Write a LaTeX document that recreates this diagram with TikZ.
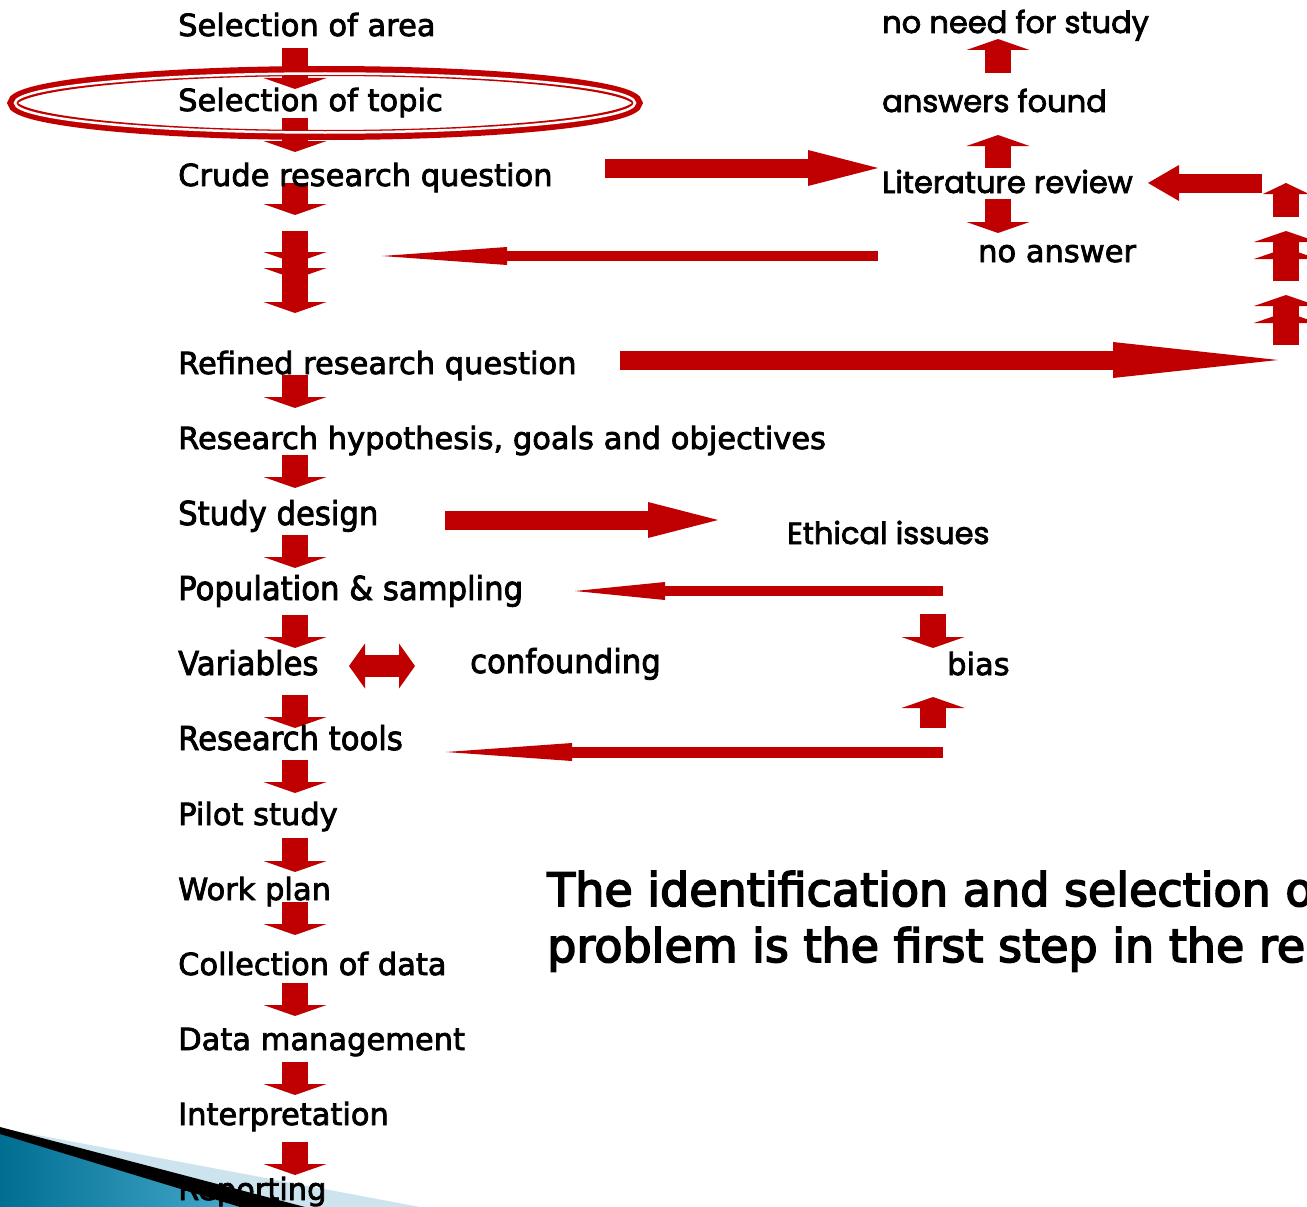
\documentclass[tikz,border=0pt]{standalone}
\usepackage{fontspec}
\setmainfont[FakeBold=2.5]{DejaVu Sans}
\newfontfamily\narrowfont[FakeStretch=0.93, FakeBold=2.5]{DejaVu Sans}
\newfontfamily\gothicfont[FakeBold=2.5]{Poppins}
\newfontfamily\headfont[FakeBold=3.5]{DejaVu Sans}
\usetikzlibrary{arrows.meta,backgrounds}

\definecolor{arrowred}{RGB}{192,0,0}
\definecolor{wedgeblue}{RGB}{205,228,238}
\definecolor{wedgeteal}{RGB}{0,110,145}
\definecolor{wedgesky}{RGB}{70,170,205}

\tikzset{
  stage/.style={anchor=base west, inner sep=0pt, font=\fontsize{30.5}{30.5}\selectfont},
  narrowstage/.style={stage, font=\narrowfont\fontsize{33}{33}\selectfont},
  side/.style={anchor=base west, inner sep=0pt, font=\gothicfont\fontsize{30.5}{30.5}\selectfont},
  statement/.style={anchor=base west, inner sep=0pt, font=\headfont\fontsize{46}{46}\selectfont},
  blockarrow/.style={arrowred, line width=26pt, -{Triangle[width=#1, length=11pt, line width=0pt]}},
  blockarrow/.default=63pt,
  broadarrow/.style={arrowred, line width=19pt, -{Triangle[width=36pt, length=#1, line width=0pt]}},
  broadarrow/.default=70pt,
  slimarrow/.style={arrowred, line width=10pt, -{Triangle[width=18pt, length=#1, line width=0pt]}},
  twoway/.style={arrowred, line width=22pt, {Triangle[width=45pt, length=16pt, line width=0pt]}-{Triangle[width=45pt, length=16pt, line width=0pt]}}
}

\begin{document}
\begin{tikzpicture}[x=1pt, y=-1pt]
  \useasboundingbox (0,0) rectangle (1307,1207);
  \clip (0,0) rectangle (1307,1207);

  % Etapas del proceso (columna izquierda)
  \node[stage] (area) at (178,36) {Selection of area};
  \node[stage] (topic) at (178,111) {Selection of topic};
  \node[stage] (crude) at (178,186) {Crude research question};
  \coordinate (loop) at (295,231);
  \node[stage] (refined) at (178,374) {Refined research question};
  \node[stage] (hypo) at (178,449) {Research hypothesis, goals and objectives};
  \node[narrowstage] (design) at (178,525) {Study design};
  \node[narrowstage] (popul) at (178,600) {Population \& sampling};
  \node[narrowstage] (vars) at (178,675) {Variables};
  \node[narrowstage] (tools) at (178,750) {Research tools};
  \node[stage] (pilot) at (178,825) {Pilot study};
  \node[stage] (plan) at (178,900) {Work plan};
  \node[stage] (collect) at (178,975) {Collection of data};
  \node[stage] (manage) at (178,1050) {Data management};
  \node[stage] (interp) at (178,1125) {Interpretation};
  \node[stage] (report) at (178,1200) {Reporting};

  % Revision de la literatura
  \node[side] (noneed) at (882,33) {no need for study};
  \node[side] (found) at (882,112) {answers found};
  \node[side] (litrev) at (882,193) {Literature review};
  \node[stage] (noans) at (978,262) {no answer};
  \coordinate (ring) at (1286,345);

  % Etica, sesgo y confusion
  \node[side] (ethics) at (787,544) {Ethical issues};
  \node[narrowstage] (confound) at (470,673) {confounding};
  \node[stage] (bias) at (947,675) {bias};

  % Texto grande (cortado por el borde)
  \node[statement] (line1) at (547,906) {The identification and selection of};
  \node[statement] (line2) at (547,962) {problem is the first step in the re};

  \begin{scope}[on background layer]
    % Esquina decorativa
    \fill[wedgeblue] (0,1128) -- (420,1207) -- (0,1207) -- cycle;
    \shade[left color=wedgeteal, right color=wedgesky] (0,1133) -- (240,1207) -- (0,1207) -- cycle;
    \fill[black] (0,1127) -- (305,1207) -- (240,1207) -- (0,1134) -- cycle;

    % Flechas de la columna izquierda
    \draw[blockarrow] ([shift={(117,12)}]area.base west) -- ([shift={(117,-22)}]topic.base west);
    \draw[blockarrow] ([shift={(117,7)}]topic.base west) -- ([shift={(117,-34)}]crude.base west);
    \draw[blockarrow] ([shift={(117,-3)}]crude.base west) -- ([shift={(0,-16)}]loop);
    \draw[blockarrow] (loop) -- ([shift={(0,32)}]loop);
    \draw[blockarrow] ([shift={(0,9)}]loop) -- ([shift={(0,48)}]loop);
    \draw[blockarrow] ([shift={(0,39)}]loop) -- ([shift={(0,82)}]loop);
    \draw[blockarrow] ([shift={(117,1)}]refined.base west) -- ([shift={(117,-41)}]hypo.base west);
    \draw[blockarrow] ([shift={(117,6)}]hypo.base west) -- ([shift={(117,-37)}]design.base west);
    \draw[blockarrow] ([shift={(117,10)}]design.base west) -- ([shift={(117,-32)}]popul.base west);
    \draw[blockarrow] ([shift={(117,15)}]popul.base west) -- ([shift={(117,-27)}]vars.base west);
    \draw[blockarrow] ([shift={(117,20)}]vars.base west) -- ([shift={(117,-22)}]tools.base west);
    \draw[blockarrow] ([shift={(117,10)}]tools.base west) -- ([shift={(117,-32)}]pilot.base west);
    \draw[blockarrow] ([shift={(117,13)}]pilot.base west) -- ([shift={(117,-28)}]plan.base west);
    \draw[blockarrow] ([shift={(117,2)}]plan.base west) -- ([shift={(117,-40)}]collect.base west);
    \draw[blockarrow] ([shift={(117,8)}]collect.base west) -- ([shift={(117,-34)}]manage.base west);
    \draw[blockarrow] ([shift={(117,12)}]manage.base west) -- ([shift={(117,-30)}]interp.base west);
    \draw[blockarrow] ([shift={(117,17)}]interp.base west) -- ([shift={(117,-25)}]report.base west);

    % Hacia y desde la literatura
    \draw[broadarrow] ([shift={(427,-18)}]crude.base west) -- ([shift={(-4,-25)}]litrev.base west);
    \draw[blockarrow] ([shift={(116,-25)}]litrev.base west) -- ([shift={(116,23)}]found.base west);
    \draw[blockarrow] ([shift={(116,-39)}]found.base west) -- ([shift={(116,6)}]noneed.base west);
    \draw[blockarrow] ([shift={(116,6)}]litrev.base west) -- ([shift={(20,-29)}]noans.base west);
    \draw[slimarrow=125pt] ([shift={(-100,-6)}]noans.base west) -- ([shift={(87,25)}]loop);

    % Vuelta de la pregunta refinada
    \draw[broadarrow=165pt] ([shift={(442,-14)}]refined.base west) -- ([shift={(-8,15)}]ring);
    \draw[blockarrow=64pt] (ring) -- ([shift={(0,-50)}]ring);
    \draw[blockarrow=64pt] (ring) -- ([shift={(0,-33)}]ring);
    \draw[blockarrow=64pt] ([shift={(0,-64)}]ring) -- ([shift={(0,-114)}]ring);
    \draw[blockarrow=64pt] ([shift={(0,-64)}]ring) -- ([shift={(0,-97)}]ring);
    \draw[blockarrow=46pt] ([shift={(0,-128)}]ring) -- ([shift={(0,-162)}]ring);
    \draw[broadarrow=31pt] ([shift={(-24,-162)}]ring) -- ([shift={(266,-10)}]litrev.base west);

    % Diseno, etica y sesgo
    \draw[broadarrow] ([shift={(267,-5)}]design.base west) -- ([shift={(-69,-24)}]ethics.base west);
    \draw[slimarrow=90pt] ([shift={(-4,-84)}]bias.base west) -- ([shift={(397,-9)}]popul.base west);
    \draw[blockarrow] ([shift={(-14,-61)}]bias.base west) -- ([shift={(-14,-27)}]bias.base west);
    \draw[blockarrow] ([shift={(-14,53)}]bias.base west) -- ([shift={(-14,22)}]bias.base west);
    \draw[slimarrow=126pt, line width=11pt] ([shift={(-4,77)}]bias.base west) -- ([shift={(268,2)}]tools.base west);
    \draw[twoway] ([shift={(171,-9)}]vars.base west) -- ([shift={(-55,-7)}]confound.base west);
  \end{scope}

  % Elipse doble alrededor del tema
  \draw[arrowred, line width=10pt] (325,103) ellipse [x radius=312.5, y radius=32];
  \draw[white, line width=2.5pt] (325,103) ellipse [x radius=310, y radius=29.5];
\end{tikzpicture}
\end{document}
